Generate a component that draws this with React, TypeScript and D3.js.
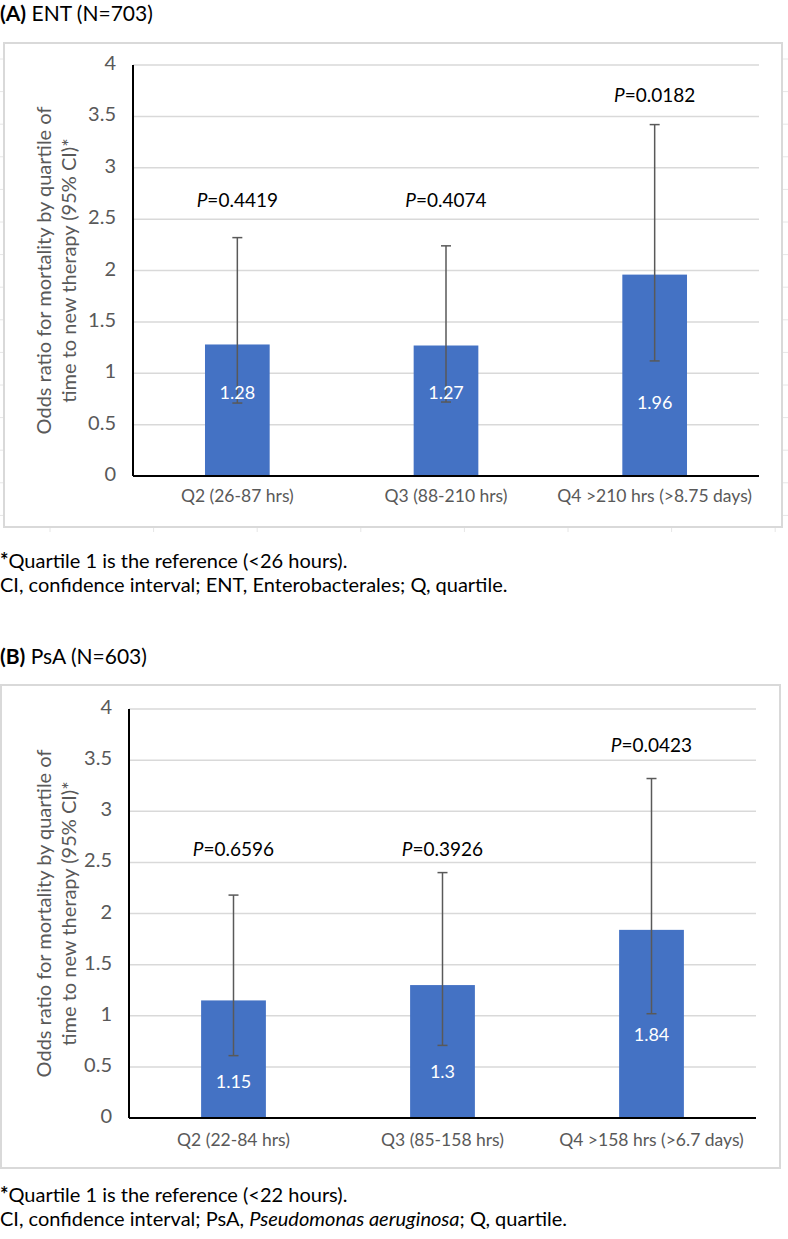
import React, { useEffect, useRef } from "react";
import * as d3 from "d3";

// ENT panel data
const entCategories = ["Q2 (26-87 hrs)", "Q3 (88-210 hrs)", "Q4 >210 hrs (>8.75 days)"];
const entOdds = [1.28, 1.27, 1.96];
const entLower = [0.71, 0.72, 1.12];
const entUpper = [2.32, 2.24, 3.42];
const entPValues = ["0.4419", "0.4074", "0.0182"];
const entPLabelAt = [2.67, 2.67, 3.69];
const entValueLabelAt = [0.79, 0.79, 0.7];

// PsA panel data
const psaCategories = ["Q2 (22-84 hrs)", "Q3 (85-158 hrs)", "Q4 >158 hrs (>6.7 days)"];
const psaOdds = [1.15, 1.3, 1.84];
const psaLower = [0.61, 0.71, 1.02];
const psaUpper = [2.18, 2.4, 3.32];
const psaPValues = ["0.6596", "0.3926", "0.0423"];
const psaPLabelAt = [2.61, 2.61, 3.63];
const psaValueLabelAt = [0.34, 0.44, 0.8];

const yTicks = [0, 0.5, 1, 1.5, 2, 2.5, 3, 3.5, 4];
const yTitle = ["Odds ratio for mortality by quartile of", "time to new therapy (95% CI)*"];

const FONT = "Lato, Carlito, 'Open Sans', sans-serif";
const BLUE = "#4472C4";
const GRAY = "#595959";
const GRID = "#d9d9d9";

function drawPanel(svg, opts) {
  const { frame, plot, titleY, label, name, categories, odds, lower, upper, pValues, pAt, valAt, catY, footY, foot1, foot2, stubs } = opts;
  const g = svg.append("g");

  // title
  const t = g.append("text").attr("x", 0).attr("y", titleY).attr("dominant-baseline", "middle")
    .style("font-size", "21px").style("fill", "#000");
  t.append("tspan").style("font-weight", "bold").text(label);
  t.append("tspan").text(" " + name);

  // leftover spreadsheet cell borders
  if (stubs) {
    for (let y = frame.y + 16; y < frame.y + frame.h; y += 32.6) {
      g.append("line").attr("x1", 0).attr("x2", frame.x).attr("y1", y).attr("y2", y).style("stroke", "#e6e6e6");
      g.append("line").attr("x1", frame.x + frame.w).attr("x2", 788).attr("y1", y).attr("y2", y).style("stroke", "#e6e6e6");
    }
    for (let x = 50; x < 788; x += 103.6) {
      g.append("line").attr("x1", x).attr("x2", x).attr("y1", frame.y + frame.h).attr("y2", frame.y + frame.h + 5).style("stroke", "#e6e6e6");
    }
  }

  g.append("rect").attr("x", frame.x).attr("y", frame.y).attr("width", frame.w).attr("height", frame.h)
    .style("fill", "#fff").style("stroke", GRID).style("stroke-width", 2);

  const x = d3.scaleBand().domain(categories).range([plot.left, plot.right]);
  const y = d3.scaleLinear().domain([0, 4]).range([plot.bottom, plot.top]);
  const barW = x.bandwidth() * 0.31;

  // gridlines
  g.selectAll(".grid").data(yTicks.filter((d) => d > 0)).enter().append("line")
    .attr("x1", plot.left).attr("x2", plot.right)
    .attr("y1", (d) => y(d)).attr("y2", (d) => y(d))
    .style("stroke", GRID).style("stroke-width", 1.5);

  // tick labels
  g.selectAll(".tick").data(yTicks).enter().append("text")
    .attr("x", plot.left - 17).attr("y", (d) => y(d)).attr("text-anchor", "end").attr("dominant-baseline", "middle")
    .style("font-size", "20px").style("fill", GRAY).text((d) => String(d));

  // axis title
  yTitle.forEach((line, i) => {
    const cx = 46 + i * 25;
    const cy = (plot.top + plot.bottom) / 2;
    g.append("text").attr("transform", `translate(${cx},${cy}) rotate(-90)`)
      .attr("text-anchor", "middle").attr("dominant-baseline", "middle")
      .style("font-size", "20px").style("fill", GRAY).text(line);
  });

  // bars
  categories.forEach((c, i) => {
    const cx = x(c) + x.bandwidth() / 2;
    g.append("rect").attr("x", cx - barW / 2).attr("y", y(odds[i])).attr("width", barW)
      .attr("height", y(0) - y(odds[i])).style("fill", BLUE);
  });

  // error bars
  categories.forEach((c, i) => {
    const cx = x(c) + x.bandwidth() / 2;
    g.append("line").attr("x1", cx).attr("x2", cx).attr("y1", y(lower[i])).attr("y2", y(upper[i]))
      .style("stroke", GRAY).style("stroke-width", 1.5);
    [lower[i], upper[i]].forEach((v) => {
      g.append("line").attr("x1", cx - 5).attr("x2", cx + 5).attr("y1", y(v)).attr("y2", y(v))
        .style("stroke", GRAY).style("stroke-width", 1.5);
    });
  });

  // value labels
  categories.forEach((c, i) => {
    const cx = x(c) + x.bandwidth() / 2;
    g.append("text").attr("x", cx).attr("y", y(valAt[i])).attr("text-anchor", "middle").attr("dominant-baseline", "middle")
      .style("font-size", "18px").style("fill", "#fff").text(String(odds[i]));
  });

  // P labels
  categories.forEach((c, i) => {
    const cx = x(c) + x.bandwidth() / 2;
    const pt = g.append("text").attr("x", cx).attr("y", y(pAt[i])).attr("text-anchor", "middle").attr("dominant-baseline", "middle")
      .style("font-size", "19px").style("fill", "#000");
    pt.append("tspan").style("font-style", "italic").text("P");
    pt.append("tspan").text("=" + pValues[i]);
  });

  // axes
  g.append("line").attr("x1", plot.left).attr("x2", plot.left).attr("y1", plot.top).attr("y2", plot.bottom)
    .style("stroke", "#000").style("stroke-width", 2);
  g.append("line").attr("x1", plot.left).attr("x2", plot.right).attr("y1", plot.bottom).attr("y2", plot.bottom)
    .style("stroke", "#000").style("stroke-width", 2);

  // category labels
  g.selectAll(".cat").data(categories).enter().append("text")
    .attr("x", (d) => x(d) + x.bandwidth() / 2).attr("y", catY)
    .attr("text-anchor", "middle").attr("dominant-baseline", "middle")
    .style("font-size", "17.5px").style("fill", GRAY).text((d) => d);

  // footnotes
  const f1 = g.append("text").attr("x", 0).attr("y", footY).attr("dominant-baseline", "middle")
    .style("font-size", "20px").style("fill", "#000");
  f1.append("tspan").style("font-weight", "bold").text("*");
  f1.append("tspan").text(foot1);
  const f2 = g.append("text").attr("x", 0).attr("y", footY + 24).attr("dominant-baseline", "middle")
    .style("font-size", "20px").style("fill", "#000");
  foot2.forEach((part) => {
    f2.append("tspan").style("font-style", part.italic ? "italic" : "normal").text(part.text);
  });
}

export const OddsChart = () => {
  const ref = useRef<HTMLDivElement>(null);

  useEffect(() => {
    if (!ref.current) return;
    d3.select(ref.current).selectAll("*").remove();

    const svg = d3.select(ref.current).append("svg")
      .attr("width", 788).attr("height", 1239)
      .style("font-family", FONT).style("display", "block");

    drawPanel(svg, {
      frame: { x: 4, y: 43, w: 778, h: 484 },
      plot: { left: 133, right: 759, top: 65, bottom: 476 },
      titleY: 16, label: "(A)", name: "ENT (N=703)",
      categories: entCategories, odds: entOdds, lower: entLower, upper: entUpper,
      pValues: entPValues, pAt: entPLabelAt, valAt: entValueLabelAt,
      catY: 498, footY: 563,
      foot1: "Quartile 1 is the reference (<26 hours).",
      foot2: [{ text: "CI, confidence interval; ENT, Enterobacterales; Q, quartile." }],
      stubs: true,
    });

    drawPanel(svg, {
      frame: { x: 1, y: 685, w: 779, h: 483 },
      plot: { left: 129, right: 756, top: 709, bottom: 1118 },
      titleY: 659, label: "(B)", name: "PsA (N=603)",
      categories: psaCategories, odds: psaOdds, lower: psaLower, upper: psaUpper,
      pValues: psaPValues, pAt: psaPLabelAt, valAt: psaValueLabelAt,
      catY: 1142, footY: 1197,
      foot1: "Quartile 1 is the reference (<22 hours).",
      foot2: [
        { text: "CI, confidence interval; PsA, " },
        { text: "Pseudomonas aeruginosa", italic: true },
        { text: "; Q, quartile." },
      ],
      stubs: false,
    });
  }, []);

  return <div ref={ref} style={{ position: "absolute", left: 0, top: 0 }}></div>;
};

export default function App() {
  return <OddsChart />;
}
